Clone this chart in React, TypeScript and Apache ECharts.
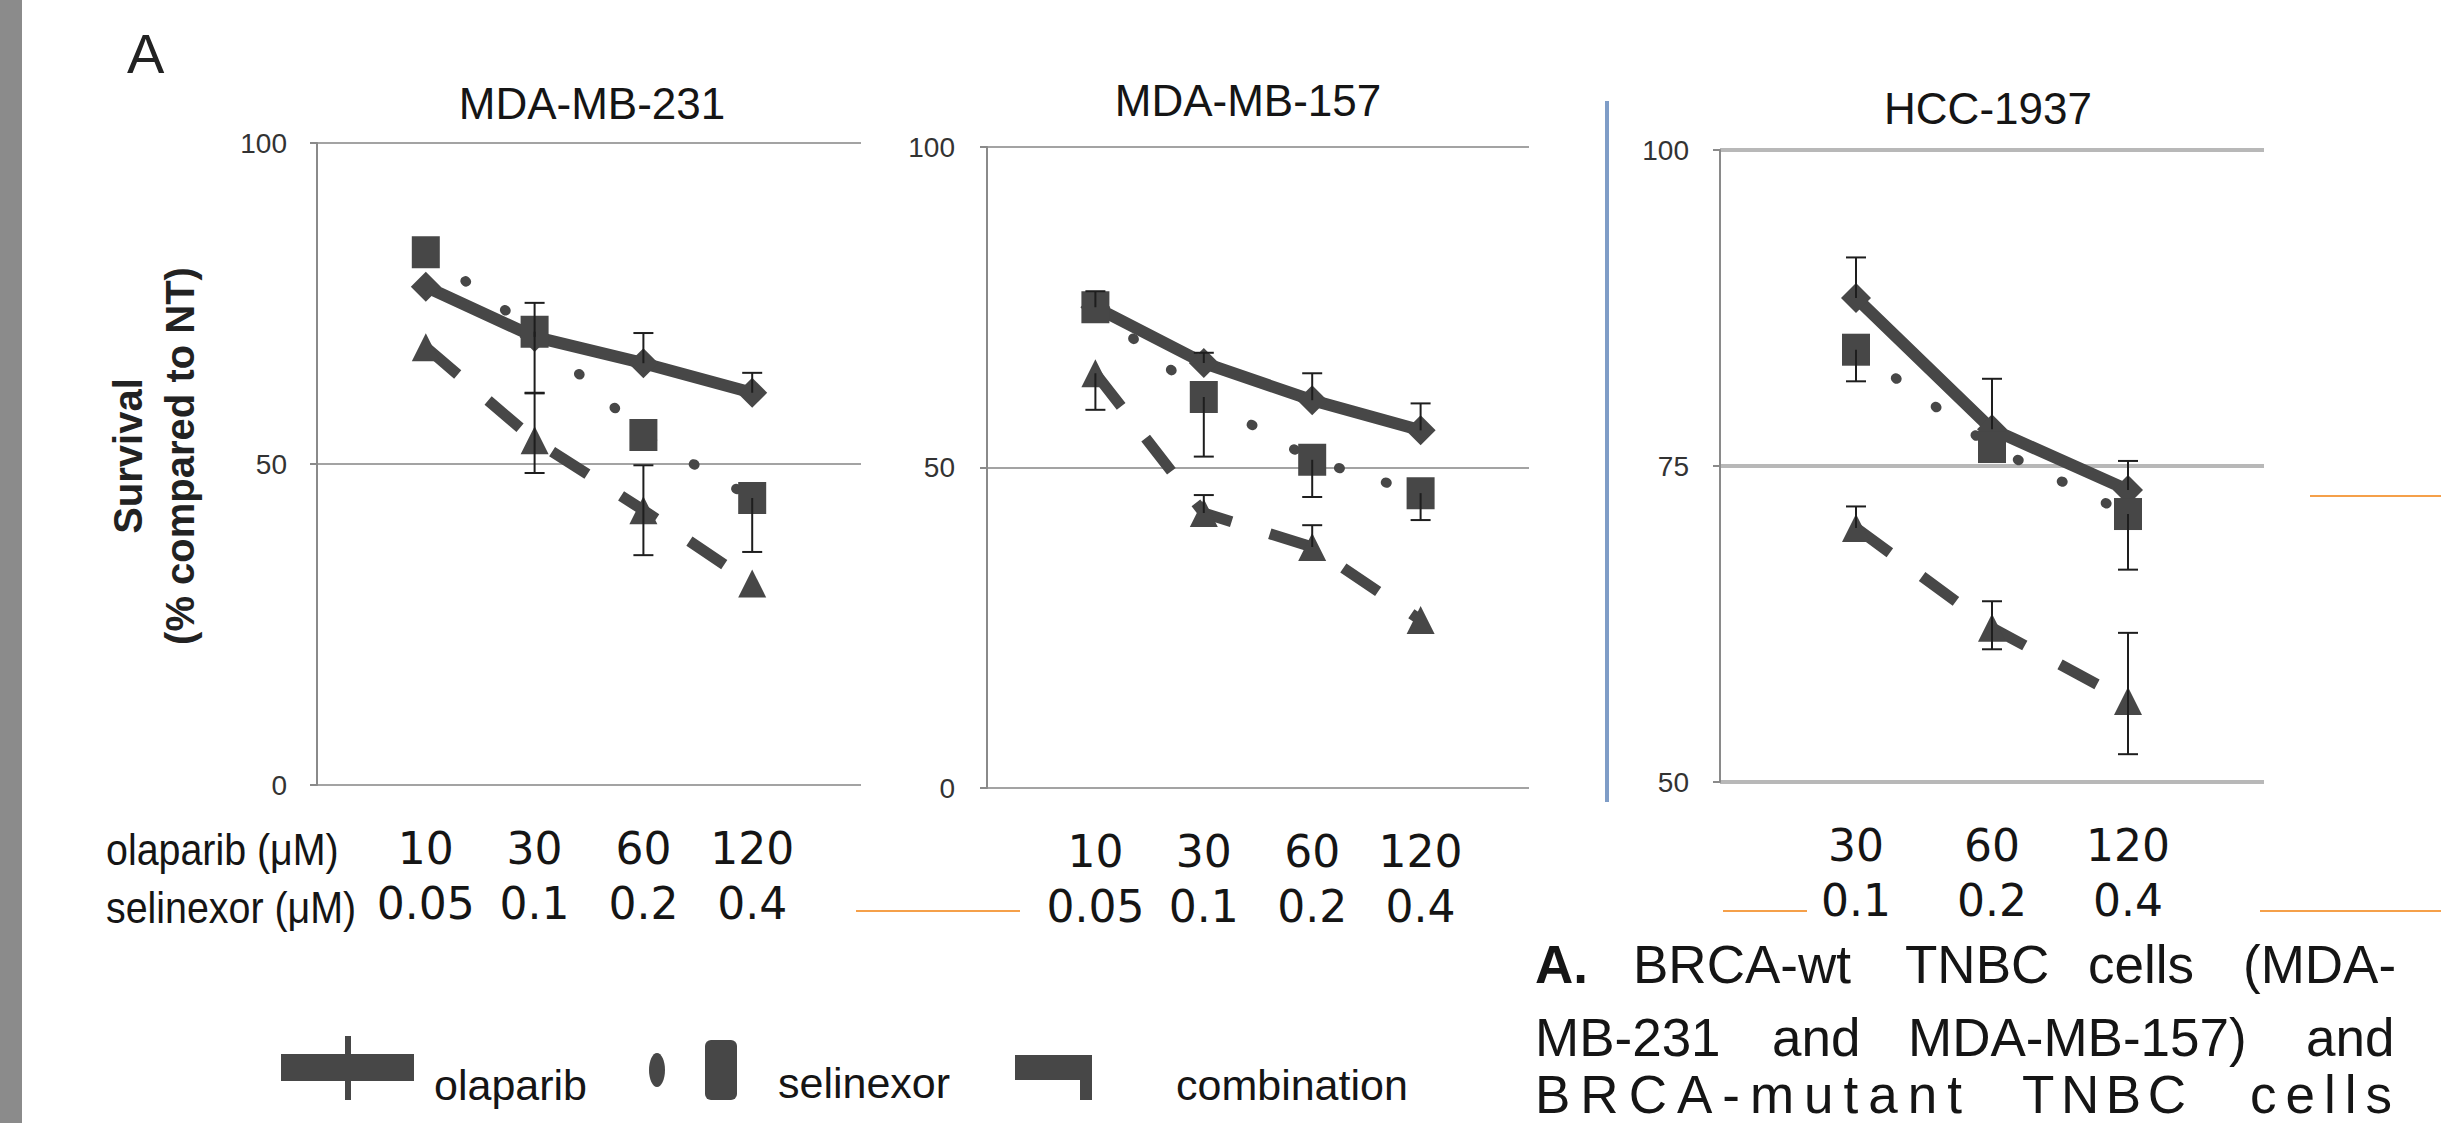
import React, { useEffect, useRef } from 'react';
import * as echarts from 'echarts';

// ---------- data ----------
const panelTitles = ['MDA-MB-231', 'MDA-MB-157', 'HCC-1937'];
const olaparibDosesAB = ['10', '30', '60', '120'];
const selinexorDosesAB = ['0.05', '0.1', '0.2', '0.4'];
const olaparibDosesC = ['30', '60', '120'];
const selinexorDosesC = ['0.1', '0.2', '0.4'];
const seriesNames = ['olaparib', 'selinexor', 'combination'];

// MDA-MB-231
const mb231Olaparib = [77.6, 69.8, 65.7, 61.1];
const mb231OlaparibPlus = [0, 5.3, 4.7, 3.1];
const mb231OlaparibMinus = [0, 0, 0, 0];
const mb231Selinexor = [83.0, 70.6, 54.5, 44.7];
const mb231SelinexorPlus = [0, 0, 0, 0];
const mb231SelinexorMinus = [0, 9.5, 0, 8.4];
const mb231Combination = [68.2, 53.7, 42.8, 31.4];
const mb231CombinationPlus = [0, 7.3, 7.0, 0];
const mb231CombinationMinus = [0, 5.1, 7.0, 0];

// MDA-MB-157
const mb157Olaparib = [75.0, 66.3, 60.5, 55.8];
const mb157OlaparibPlus = [2.5, 1.6, 4.2, 4.2];
const mb157OlaparibMinus = [0, 0, 0, 0];
const mb157Selinexor = [75.0, 61.0, 51.2, 46.0];
const mb157SelinexorPlus = [0, 0, 0, 0];
const mb157SelinexorMinus = [0, 9.3, 5.8, 4.2];
const mb157Combination = [64.7, 42.9, 37.6, 26.2];
const mb157CombinationPlus = [0, 2.8, 3.4, 0];
const mb157CombinationMinus = [5.7, 0, 0, 0];

// HCC-1937
const hccOlaparib = [88.3, 77.9, 73.1];
const hccOlaparibPlus = [3.2, 4.0, 2.3];
const hccOlaparibMinus = [0, 0, 0];
const hccSelinexor = [84.2, 76.5, 71.2];
const hccSelinexorPlus = [0, 0, 0];
const hccSelinexorMinus = [2.5, 0, 4.4];
const hccCombination = [70.1, 62.2, 56.4];
const hccCombinationPlus = [1.7, 2.1, 5.4];
const hccCombinationMinus = [0, 1.7, 4.2];

const yMinAB = 0, yMaxAB = 100, yStepAB = 50;
const yMinC = 50, yMaxC = 100, yStepC = 25;

const captionLine1 = ['A.', 'BRCA-wt', 'TNBC', 'cells', '(MDA-'];
const captionLine2 = ['MB-231', 'and', 'MDA-MB-157)', 'and'];
const captionLine3 = ['BRCA-mutant', 'TNBC', 'cells'];

// ---------- styles ----------
const INK = '#474747';
const FONT = '"Liberation Sans", Arial, sans-serif';

const grids = [
  { left: 317, top: 143, width: 544, height: 642, labelMargin: 30, gridColor: '#a3a3a3', gridWidth: 2 },
  { left: 987, top: 147, width: 542, height: 641, labelMargin: 32, gridColor: '#a3a3a3', gridWidth: 2 },
  { left: 1720, top: 150, width: 544, height: 632, labelMargin: 31, gridColor: '#b8b8b8', gridWidth: 4 },
];

function buildCategories(ola: string[], sel: string[]) {
  return ['', ...ola.map((d, i) => d + '\n' + sel[i]), ' '];
}

function lineSeries(gi: number, kind: number, values: number[]) {
  const base: any = {
    type: 'line',
    name: seriesNames[kind],
    xAxisIndex: gi,
    yAxisIndex: gi,
    data: values.map((v, i) => [i + 1, v]),
    itemStyle: { color: INK },
    z: 2,
  };
  if (kind === 0) {
    base.symbol = 'diamond';
    base.symbolSize = 30;
    base.lineStyle = { color: INK, width: 12 };
  } else if (kind === 1) {
    base.symbol = 'rect';
    base.symbolSize = [28, 32];
    base.lineStyle = { color: INK, width: 10, type: [1, 48], cap: 'round' };
  } else {
    base.symbol = 'triangle';
    base.symbolSize = 28;
    base.lineStyle = { color: INK, width: 11, type: [42, 40] };
  }
  return base;
}

function errorSeries(gi: number, values: number[], plus: number[], minus: number[]) {
  return {
    type: 'custom',
    xAxisIndex: gi,
    yAxisIndex: gi,
    z: 5,
    silent: true,
    data: values.map((v, i) => [i + 1, v - minus[i], v + plus[i], v]),
    encode: { x: 0, y: [1, 2] },
    renderItem: (params: any, api: any) => {
      const x = api.value(0);
      const lo = api.value(1);
      const hi = api.value(2);
      const v = api.value(3);
      if (hi - lo < 0.01) return { type: 'group', children: [] };
      const pLo = api.coord([x, lo]);
      const pHi = api.coord([x, hi]);
      const w = 10;
      const st = { stroke: '#1e1e1e', lineWidth: 2 };
      const children: any[] = [
        { type: 'line', shape: { x1: pLo[0], y1: pLo[1], x2: pHi[0], y2: pHi[1] }, style: st },
      ];
      if (hi - v > 0.01) children.push({ type: 'line', shape: { x1: pHi[0] - w, y1: pHi[1], x2: pHi[0] + w, y2: pHi[1] }, style: st });
      if (v - lo > 0.01) children.push({ type: 'line', shape: { x1: pLo[0] - w, y1: pLo[1], x2: pLo[0] + w, y2: pLo[1] }, style: st });
      return { type: 'group', children };
    },
  };
}

function textEl(text: string, x: number, y: number, size: number, opts: any = {}) {
  return {
    type: 'text',
    x,
    y,
    scaleX: opts.scaleX ?? 1,
    rotation: opts.rotation ?? 0,
    z: 10,
    style: {
      text,
      x: 0,
      y: 0,
      fill: opts.fill ?? '#151515',
      fontSize: size,
      fontFamily: opts.family ?? FONT,
      fontWeight: opts.weight ?? 'normal',
      align: opts.align ?? 'left',
      verticalAlign: 'middle',
      lineHeight: opts.lineHeight,
    },
  };
}

function spacedWord(word: string, x0: number, x1: number, y: number, size: number, ctx: CanvasRenderingContext2D | null) {
  const chars = word.split('');
  const widths = chars.map((c) => (ctx ? ctx.measureText(c).width : size * 0.55));
  const natural = widths.reduce((a, b) => a + b, 0);
  const gap = chars.length > 1 ? (x1 - x0 - natural) / (chars.length - 1) : 0;
  const els: any[] = [];
  let cx = x0;
  chars.forEach((c, i) => {
    els.push(textEl(c, cx, y, size));
    cx += widths[i] + gap;
  });
  return els;
}

export default function App() {
  const ref = useRef<HTMLDivElement>(null);

  useEffect(() => {
    if (!ref.current) return;
    const chart = echarts.init(ref.current, null, { renderer: 'svg' });

    const cats = [
      buildCategories(olaparibDosesAB, selinexorDosesAB),
      buildCategories(olaparibDosesAB, selinexorDosesAB),
      buildCategories(olaparibDosesC, selinexorDosesC),
    ];

    const panels = [
      [mb231Olaparib, mb231OlaparibPlus, mb231OlaparibMinus, mb231Selinexor, mb231SelinexorPlus, mb231SelinexorMinus, mb231Combination, mb231CombinationPlus, mb231CombinationMinus],
      [mb157Olaparib, mb157OlaparibPlus, mb157OlaparibMinus, mb157Selinexor, mb157SelinexorPlus, mb157SelinexorMinus, mb157Combination, mb157CombinationPlus, mb157CombinationMinus],
      [hccOlaparib, hccOlaparibPlus, hccOlaparibMinus, hccSelinexor, hccSelinexorPlus, hccSelinexorMinus, hccCombination, hccCombinationPlus, hccCombinationMinus],
    ];

    const series: any[] = [];
    panels.forEach((p, gi) => {
      for (let k = 0; k < 3; k++) {
        series.push(lineSeries(gi, k, p[k * 3]));
      }
      for (let k = 0; k < 3; k++) {
        series.push(errorSeries(gi, p[k * 3], p[k * 3 + 1], p[k * 3 + 2]));
      }
    });

    const canvas = document.createElement('canvas');
    const ctx = canvas.getContext('2d');
    const capSize = 53;
    if (ctx) ctx.font = `${capSize}px "Liberation Sans", Arial, sans-serif`;

    const graphics: any[] = [
      { type: 'rect', shape: { x: 0, y: 0, width: 22, height: 1123 }, style: { fill: '#8b8b8b' }, z: 1 },
      textEl('A', 127, 53, 56, { fill: '#222' }),
      textEl(panelTitles[0], 592, 103, 44, { align: 'center' }),
      textEl(panelTitles[1], 1248, 100, 44, { align: 'center' }),
      textEl(panelTitles[2], 1988, 108, 44, { align: 'center' }),
      textEl('Survival\n(% compared to NT)', 154, 456, 40, { align: 'center', weight: 'bold', rotation: Math.PI / 2, lineHeight: 52, fill: '#222' }),
      textEl('olaparib (μM)', 106, 850, 45, { scaleX: 0.875 }),
      textEl('selinexor (μM)', 106, 908, 45, { scaleX: 0.875 }),
      // separator
      { type: 'line', shape: { x1: 1607, y1: 101, x2: 1607, y2: 802 }, style: { stroke: '#7f9dc7', lineWidth: 4 }, z: 1 },
      // orange rules
      { type: 'line', shape: { x1: 2310, y1: 496, x2: 2441, y2: 496 }, style: { stroke: '#f5a04a', lineWidth: 2 }, z: 1 },
      { type: 'line', shape: { x1: 856, y1: 911, x2: 1020, y2: 911 }, style: { stroke: '#f5a04a', lineWidth: 2 }, z: 1 },
      { type: 'line', shape: { x1: 1723, y1: 911, x2: 1807, y2: 911 }, style: { stroke: '#f5a04a', lineWidth: 2 }, z: 1 },
      { type: 'line', shape: { x1: 2260, y1: 911, x2: 2441, y2: 911 }, style: { stroke: '#f5a04a', lineWidth: 2 }, z: 1 },
      // legend symbols
      { type: 'rect', shape: { x: 281, y: 1054, width: 133, height: 27 }, style: { fill: INK }, z: 1 },
      { type: 'rect', shape: { x: 345, y: 1036, width: 6, height: 64 }, style: { fill: INK }, z: 1 },
      { type: 'ellipse', shape: { cx: 657, cy: 1070, rx: 8, ry: 17 }, style: { fill: INK }, z: 1 },
      { type: 'rect', shape: { x: 705, y: 1040, width: 32, height: 60, r: 6 }, style: { fill: INK }, z: 1 },
      { type: 'rect', shape: { x: 1015, y: 1055, width: 77, height: 25 }, style: { fill: INK }, z: 1 },
      { type: 'rect', shape: { x: 1080, y: 1055, width: 12, height: 45 }, style: { fill: INK }, z: 1 },
      textEl(seriesNames[0], 434, 1085, 43),
      textEl(seriesNames[1], 778, 1083, 43),
      textEl(seriesNames[2], 1176, 1085, 43),
    ];

    // caption
    const l1x = [1535, 1633, 1905, 2088, 2243];
    captionLine1.forEach((w, i) => graphics.push(textEl(w, l1x[i], 964, capSize, { weight: i === 0 ? 'bold' : 'normal' })));
    const l2x = [1535, 1772, 1908, 2306];
    captionLine2.forEach((w, i) => graphics.push(textEl(w, l2x[i], 1037, capSize)));
    const l3 = [[1535, 1962], [2022, 2186], [2250, 2392]];
    captionLine3.forEach((w, i) => graphics.push(...spacedWord(w, l3[i][0], l3[i][1], 1094, capSize, ctx)));

    const option: any = {
      animation: false,
      backgroundColor: '#ffffff',
      grid: grids.map((g) => ({ left: g.left, top: g.top, width: g.width, height: g.height, containLabel: false })),
      xAxis: grids.map((g, gi) => ({
        type: 'category',
        gridIndex: gi,
        data: cats[gi],
        boundaryGap: false,
        axisLine: { show: false },
        axisTick: { show: false },
        splitLine: { show: false },
        axisLabel: {
          interval: 0,
          margin: 36,
          fontSize: 44,
          lineHeight: 55,
          fontFamily: '"DejaVu Sans", sans-serif',
          color: '#151515',
        },
      })),
      yAxis: grids.map((g, gi) => ({
        type: 'value',
        gridIndex: gi,
        min: gi === 2 ? yMinC : yMinAB,
        max: gi === 2 ? yMaxC : yMaxAB,
        interval: gi === 2 ? yStepC : yStepAB,
        axisLine: { show: true, lineStyle: { color: '#8a8a8a', width: 2 } },
        axisTick: { show: true, length: 7, lineStyle: { color: '#8a8a8a', width: 2 } },
        splitLine: { show: true, lineStyle: { color: g.gridColor, width: g.gridWidth } },
        axisLabel: { margin: g.labelMargin, fontSize: 28, fontFamily: FONT, color: '#333' },
      })),
      series,
      graphic: graphics,
    };

    chart.setOption(option);
    return () => chart.dispose();
  }, []);

  return (
    <div
      ref={ref}
      style={{ position: 'absolute', left: 0, top: 0, width: 2441, height: 1123, background: '#fff' }}
    />
  );
}
